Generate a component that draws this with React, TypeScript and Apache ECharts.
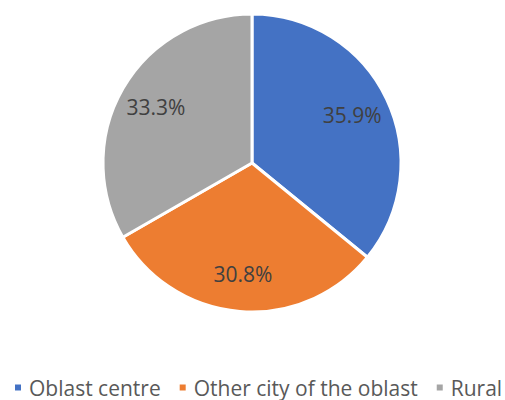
import React, { useEffect, useRef } from "react";
import * as echarts from "echarts";

const categories = ["Oblast centre", "Other city of the oblast", "Rural"];
const shares = [35.9, 30.8, 33.3];
const colors = ["#4472C4", "#ED7D31", "#A5A5A5"];

export default function App() {
  const ref = useRef<HTMLDivElement>(null);
  useEffect(() => {
    if (!ref.current) return;
    const chart = echarts.init(ref.current, undefined, { renderer: "svg" });
    const font = "'Open Sans', sans-serif";
    const data = categories.map((name, i) => ({
      name,
      value: shares[i],
      itemStyle: { color: colors[i] },
    }));
    chart.setOption({
      animation: false,
      backgroundColor: "#ffffff",
      legend: {
        data: categories,
        bottom: 2,
        left: 13,
        padding: 0,
        icon: "rect",
        itemWidth: 8,
        itemHeight: 8,
        itemGap: 17,
        textStyle: {
          fontFamily: font,
          fontSize: 21,
          lineHeight: 14,
          color: "#595959",
          padding: [0, 0, 0, 2],
        },
      },
      series: [
        {
          type: "pie",
          center: [252, 163],
          radius: [0, 149],
          startAngle: 90,
          clockwise: true,
          data,
          itemStyle: { borderColor: "#ffffff", borderWidth: 3 },
          label: { show: false },
          labelLine: { show: false },
          silent: true,
        },
        {
          type: "pie",
          center: [252, 163],
          radius: [0, 216],
          startAngle: 90,
          clockwise: true,
          silent: true,
          legendHoverLink: false,
          data: data.map((d, i) => ({
            name: d.name,
            value: d.value,
            label: i === 1 ? { padding: [14, 0, 0, 0] } : {},
          })),
          itemStyle: { color: "rgba(0,0,0,0)", borderWidth: 0 },
          label: {
            show: true,
            position: "inside",
            formatter: (p: any) => p.value.toFixed(1) + "%",
            fontFamily: font,
            fontSize: 21,
            color: "#404040",
          },
          labelLine: { show: false },
          emphasis: { disabled: true },
        },
      ],
    });
    return () => chart.dispose();
  }, []);
  return (
    <div
      ref={ref}
      style={{ position: "fixed", left: 0, top: 0, width: 505, height: 400 }}
    />
  );
}
